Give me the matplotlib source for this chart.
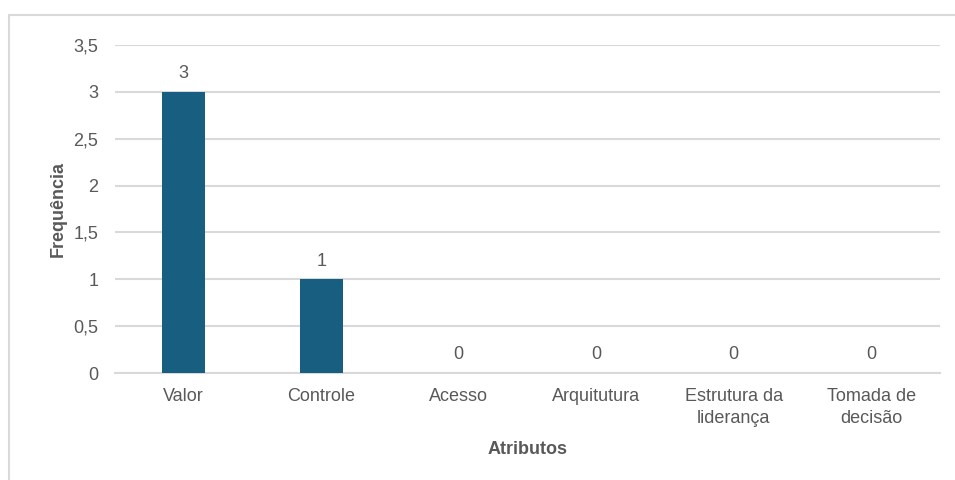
import matplotlib
matplotlib.use("Agg")
import matplotlib.pyplot as plt
from matplotlib.patches import Rectangle

# dados do gráfico
atributos = ["Valor", "Controle", "Acesso", "Arquitutura",
             "Estrutura da\nliderança", "Tomada de\ndecisão"]
frequencia = [3, 1, 0, 0, 0, 0]
yticks = [0, 0.5, 1, 1.5, 2, 2.5, 3, 3.5]
ytick_labels = ["0", "0,5", "1", "1,5", "2", "2,5", "3", "3,5"]

plt.rcParams["font.family"] = ["Liberation Sans", "DejaVu Sans"]
cor_texto = "#595959"
cor_grade = "#D9D9D9"

fig = plt.figure(figsize=(9.55, 4.8), dpi=100)
ax = fig.add_axes([0.1204, 0.2229, 0.8639, 0.6834])

# moldura do gráfico (estilo Excel)
fig.patches.append(Rectangle((9 / 955, -0.5), 2, 1 - 15 / 480 + 0.5,
                             transform=fig.transFigure, fill=False,
                             edgecolor=cor_grade, linewidth=1.5))

x = range(len(atributos))
barras = ax.bar(x, frequencia, width=0.31, color="#175E80", zorder=3)

for b, v in zip(barras, frequencia):
    ax.annotate(str(v), (b.get_x() + b.get_width() / 2, v),
                xytext=(0, 7), textcoords="offset points",
                ha="center", va="bottom", fontsize=13, color=cor_texto)

ax.set_xlim(-0.5, len(atributos) - 0.5)
ax.set_ylim(0, 3.5)
ax.set_yticks(yticks)
ax.set_yticklabels(ytick_labels)
ax.set_xticks(list(x))
ax.set_xticklabels(atributos, linespacing=1.35)

ax.grid(axis="y", color=cor_grade, linewidth=1.5, zorder=0)
for s in ["top", "right", "left"]:
    ax.spines[s].set_visible(False)
ax.spines["bottom"].set_color(cor_grade)
ax.spines["bottom"].set_linewidth(1.5)
ax.tick_params(axis="both", length=0, labelsize=13, labelcolor=cor_texto)
ax.tick_params(axis="y", pad=12)
ax.tick_params(axis="x", pad=11)

ax.set_xlabel("Atributos", fontsize=13, fontweight="bold", color=cor_texto, labelpad=10)
ax.set_ylabel("Frequência", fontsize=13, fontweight="bold", color=cor_texto, labelpad=5)

fig.savefig("out.png", dpi=100)
